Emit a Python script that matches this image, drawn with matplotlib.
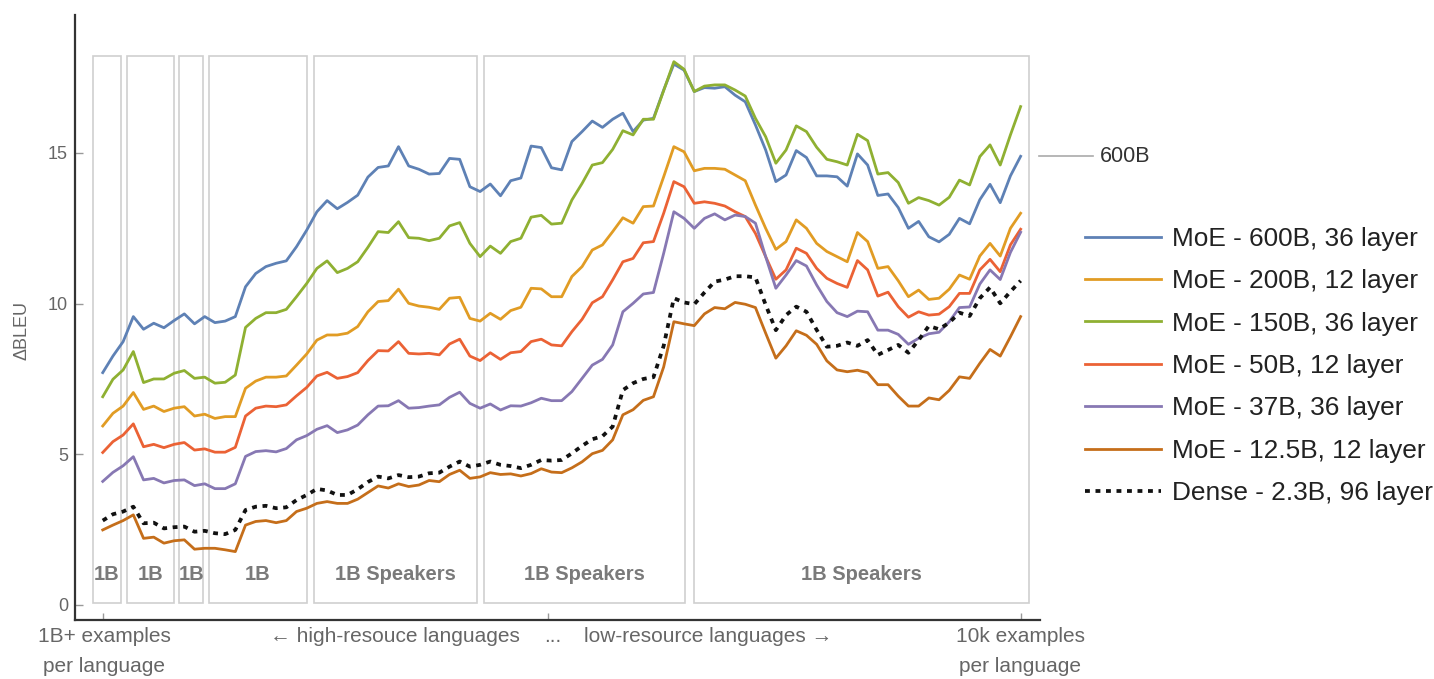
import numpy as np
import matplotlib
matplotlib.use("Agg")
import matplotlib.pyplot as plt
from matplotlib.patches import Rectangle

plt.rcParams['font.family'] = ['Liberation Sans', 'DejaVu Sans']

# language index (high-resource -> low-resource)
x = np.arange(91)

moe_600b = [7.71, 8.26, 8.74, 9.57, 9.15, 9.35, 9.20, 9.44, 9.66, 9.33, 9.57, 9.37, 9.42, 9.57, 10.56, 11.0, 11.23, 11.34, 11.42, 11.89, 12.44, 13.05, 13.42,
            13.15, 13.36, 13.6, 14.2, 14.52, 14.57, 15.21, 14.57, 14.46, 14.3, 14.32, 14.82, 14.79, 13.88, 13.72, 13.97, 13.58, 14.08, 14.17, 15.23, 15.18, 14.51, 14.44,
            15.38, 15.71, 16.06, 15.85, 16.12, 16.32, 15.71, 16.09, 16.15, 17.09, 17.95, 17.75,
            17.04, 17.17, 17.15, 17.2, 16.92, 16.7, 15.93, 15.1, 14.05, 14.27, 15.08, 14.85, 14.24, 14.24, 14.21, 13.9, 14.97, 14.6, 13.59, 13.64, 13.19, 12.5,
            12.73, 12.22, 12.05, 12.3, 12.83, 12.65, 13.45, 13.96, 13.35, 14.24, 14.89]
moe_200b = [5.94, 6.36, 6.6, 7.05, 6.49, 6.6, 6.42, 6.53, 6.58, 6.27, 6.33, 6.19, 6.25, 6.25, 7.19, 7.43, 7.56, 7.56, 7.6, 7.96, 8.33, 8.79, 8.96,
            8.96, 9.02, 9.24, 9.73, 10.07, 10.1, 10.48, 10.01, 9.92, 9.88, 9.81, 10.18, 10.21, 9.51, 9.42, 9.68, 9.48, 9.77, 9.88, 10.51, 10.49, 10.23, 10.23,
            10.9, 11.23, 11.78, 11.95, 12.39, 12.85, 12.67, 13.22, 13.24, 14.21, 15.21, 15.04,
            14.41, 14.49, 14.49, 14.46, 14.27, 14.08, 13.27, 12.5, 11.8, 12.06, 12.78, 12.5, 12.0, 11.73, 11.56, 11.39, 12.36, 12.06, 11.17, 11.23, 10.76, 10.23,
            10.45, 10.14, 10.18, 10.48, 10.95, 10.81, 11.58, 12.0, 11.58, 12.5, 13.0]
moe_150b = [6.91, 7.49, 7.8, 8.41, 7.38, 7.5, 7.5, 7.69, 7.78, 7.52, 7.56, 7.36, 7.39, 7.63, 9.21, 9.51, 9.7, 9.7, 9.81, 10.23, 10.67, 11.17, 11.42,
            11.03, 11.17, 11.39, 11.87, 12.39, 12.36, 12.72, 12.19, 12.17, 12.09, 12.17, 12.58, 12.69, 12.0, 11.56, 11.91, 11.67, 12.06, 12.17, 12.87, 12.93, 12.64, 12.67,
            13.44, 13.99, 14.6, 14.68, 15.12, 15.74, 15.6, 16.12, 16.12, 17.07, 18.03, 17.78,
            17.04, 17.22, 17.26, 17.26, 17.09, 16.89, 16.15, 15.54, 14.66, 15.1, 15.9, 15.71, 15.19, 14.79, 14.71, 14.6, 15.62, 15.41, 14.3, 14.35, 14.02, 13.33,
            13.52, 13.42, 13.27, 13.53, 14.1, 13.94, 14.88, 15.27, 14.6, 15.6, 16.54]
moe_50b = [5.06, 5.42, 5.64, 6.01, 5.25, 5.33, 5.22, 5.33, 5.39, 5.14, 5.18, 5.07, 5.07, 5.23, 6.27, 6.53, 6.6, 6.58, 6.64, 6.94, 7.22, 7.6, 7.72,
           7.52, 7.58, 7.71, 8.11, 8.44, 8.43, 8.74, 8.35, 8.33, 8.35, 8.3, 8.66, 8.82, 8.26, 8.11, 8.37, 8.15, 8.37, 8.41, 8.74, 8.82, 8.63, 8.6,
           9.07, 9.48, 10.03, 10.23, 10.79, 11.39, 11.5, 12.02, 12.06, 13.0, 14.05, 13.88,
           13.33, 13.38, 13.33, 13.24, 13.05, 12.89, 12.33, 11.56, 10.81, 11.12, 11.84, 11.67, 11.17, 10.84, 10.67, 10.54, 11.43, 11.12, 10.25, 10.38, 9.9, 9.55,
           9.73, 9.62, 9.65, 9.9, 10.34, 10.34, 11.12, 11.47, 11.06, 11.95, 12.47]
moe_37b = [4.1, 4.4, 4.62, 4.92, 4.15, 4.2, 4.05, 4.13, 4.15, 3.96, 4.02, 3.86, 3.86, 4.02, 4.93, 5.09, 5.12, 5.08, 5.19, 5.48, 5.62, 5.83, 5.95,
           5.72, 5.81, 5.97, 6.31, 6.6, 6.61, 6.78, 6.53, 6.55, 6.6, 6.64, 6.89, 7.06, 6.69, 6.53, 6.67, 6.47, 6.61, 6.6, 6.71, 6.86, 6.78, 6.78,
           7.08, 7.52, 7.96, 8.15, 8.63, 9.73, 10.01, 10.32, 10.37, 11.67, 13.05, 12.83,
           12.5, 12.83, 12.98, 12.78, 12.94, 12.89, 12.67, 11.56, 10.51, 10.95, 11.43, 11.25, 10.62, 10.07, 9.7, 9.57, 9.75, 9.73, 9.12, 9.12, 8.98, 8.65,
           8.85, 9.0, 9.05, 9.4, 9.87, 9.89, 10.65, 11.12, 10.8, 11.7, 12.37]
moe_12b = [2.49, 2.65, 2.8, 2.99, 2.21, 2.25, 2.05, 2.13, 2.16, 1.85, 1.88, 1.88, 1.83, 1.77, 2.65, 2.77, 2.8, 2.73, 2.8, 3.1, 3.21, 3.37, 3.43,
           3.37, 3.37, 3.51, 3.73, 3.95, 3.88, 4.02, 3.93, 3.98, 4.13, 4.09, 4.33, 4.47, 4.2, 4.25, 4.39, 4.33, 4.35, 4.28, 4.36, 4.52, 4.41, 4.39,
           4.55, 4.75, 5.02, 5.13, 5.48, 6.31, 6.48, 6.79, 6.91, 7.9, 9.4, 9.33,
           9.27, 9.66, 9.87, 9.83, 10.04, 9.98, 9.87, 9.02, 8.19, 8.6, 9.1, 8.95, 8.65, 8.1, 7.8, 7.74, 7.79, 7.71, 7.31, 7.31, 6.93, 6.6,
           6.6, 6.87, 6.81, 7.12, 7.57, 7.52, 8.02, 8.48, 8.26, 8.9, 9.57]
dense_2b = [2.8, 3.01, 3.1, 3.26, 2.71, 2.73, 2.54, 2.58, 2.6, 2.43, 2.46, 2.38, 2.35, 2.49, 3.15, 3.26, 3.29, 3.21, 3.24, 3.48, 3.65, 3.85, 3.8,
            3.65, 3.65, 3.84, 4.08, 4.26, 4.2, 4.31, 4.24, 4.26, 4.37, 4.39, 4.59, 4.76, 4.59, 4.65, 4.76, 4.65, 4.61, 4.54, 4.65, 4.81, 4.79, 4.81,
            5.03, 5.28, 5.5, 5.6, 5.92, 7.13, 7.36, 7.5, 7.56, 8.6, 10.18, 10.04,
            9.98, 10.37, 10.73, 10.8, 10.91, 10.91, 10.87, 9.96, 9.12, 9.62, 9.9, 9.73, 9.13, 8.57, 8.6, 8.71, 8.6, 8.79, 8.3, 8.46, 8.63, 8.37,
            8.79, 9.26, 9.15, 9.37, 9.7, 9.59, 10.18, 10.54, 10.01, 10.4, 10.76]

labels = ['MoE - 600B, 36 layer', 'MoE - 200B, 12 layer', 'MoE - 150B, 36 layer',
          'MoE - 50B, 12 layer', 'MoE - 37B, 36 layer', 'MoE - 12.5B, 12 layer']
colors = ['#5E81B5', '#E19C24', '#8FB032', '#EB6235', '#8778B3', '#C56E1A']

# grey "1B speakers" groups along the x axis
box_edges = [(-0.92, 1.76), (2.35, 7.01), (7.51, 9.86), (10.42, 20.0),
             (20.74, 36.72), (37.38, 57.09), (57.99, 90.86)]
box_labels = ['1B', '1B', '1B', '1B', '1B Speakers', '1B Speakers', '1B Speakers']

W, H = 1434, 679
fig = plt.figure(figsize=(W / 100, H / 100), dpi=100)
ax = fig.add_axes([75 / W, 1 - 620 / H, (1040 - 75) / W, (620 - 15) / H])

for (x0, x1), lab in zip(box_edges, box_labels):
    ax.add_patch(Rectangle((x0, 0.06), x1 - x0, 18.15, fill=False,
                           edgecolor='#cfcfcf', lw=1.2, zorder=1))
    ax.text((x0 + x1) / 2, 1.0, lab, ha='center', va='center', fontsize=14.5,
            fontweight='bold', color='#7a7a7a', zorder=2)

series = [moe_600b, moe_200b, moe_150b, moe_50b, moe_37b, moe_12b]
for ys, lab, c in zip(series, labels, colors):
    ax.plot(x, ys, color=c, lw=2.0, label=lab, zorder=3)
ax.plot(x, dense_2b, color='#111111', lw=2.7, dashes=(1.3, 1.5),
        label='Dense - 2.3B, 96 layer', zorder=3)

ax.set_xlim(-2.72, 91.9)
ax.set_ylim(-0.5, 19.58)
ax.set_yticks([0, 5, 10, 15])
ax.set_xticks([0, 43.66, 90])
ax.set_xticklabels([])
ax.tick_params(axis='y', direction='in', length=6, width=1, color='#999999',
               labelcolor='#666666', labelsize=13, pad=5)
ax.tick_params(axis='x', direction='in', length=5, width=1, color='#999999')
for s in ['top', 'right']:
    ax.spines[s].set_visible(False)
for s in ['left', 'bottom']:
    ax.spines[s].set_color('#333333')
    ax.spines[s].set_linewidth(1.6)

fig.text(22 / W, 1 - 330 / H, 'ΔBLEU', rotation=90, ha='center', va='center',
         fontsize=13, color='#666666')

# "600B" marker on the right
ax.plot([91.8, 97.1], [moe_600b[-1]] * 2, color='#aaaaaa', lw=1.2, clip_on=False)
ax.text(97.8, moe_600b[-1], '600B', ha='left', va='center', fontsize=15.5,
        color='#333333', clip_on=False)

# x axis descriptions
xt = dict(fontsize=15, color='#666666', ha='center', va='center')
fig.text(104 / W, 1 - 637 / H, '1B+ examples', **xt)
fig.text(104 / W, 1 - 667 / H, 'per language', **xt)
fig.text(395 / W, 1 - 637 / H, '← high-resouce languages', **xt)
fig.text(553 / W, 1 - 637 / H, '...', **xt)
fig.text(708 / W, 1 - 637 / H, 'low-resource languages →', **xt)
fig.text(1020 / W, 1 - 637 / H, '10k examples', **xt)
fig.text(1020 / W, 1 - 667 / H, 'per language', **xt)

leg = ax.legend(loc='center left', bbox_to_anchor=(1085 / W, 1 - 366 / H),
                bbox_transform=fig.transFigure, frameon=False, fontsize=18.9,
                handlelength=2.9, handletextpad=0.42, labelspacing=0.7,
                borderpad=0, borderaxespad=0)
for t in leg.get_texts():
    t.set_color('#222222')

fig.savefig('out.png', dpi=100)
